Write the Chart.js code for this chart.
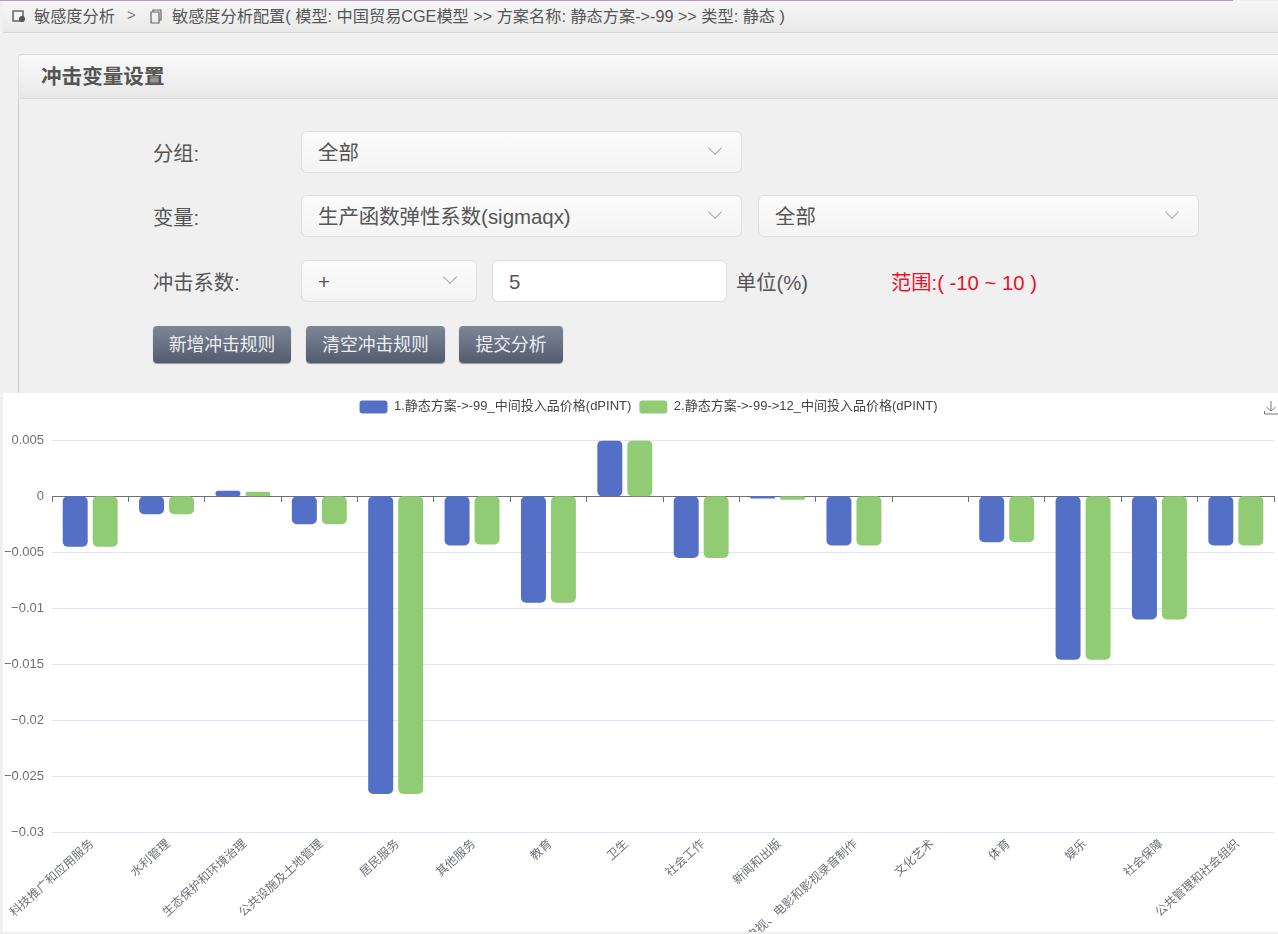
<!DOCTYPE html>
<html lang="zh">
<head>
<meta charset="utf-8">
<title>敏感度分析</title>
<script src="https://cdn.jsdelivr.net/npm/chart.js@4/dist/chart.umd.min.js"></script>
<style>
html,body{margin:0;padding:0;width:1278px;height:934px;overflow:hidden;background:#f0f0f0;font-family:"Liberation Sans","Noto Sans CJK SC",sans-serif;color:#555}
.a{position:absolute;white-space:nowrap}
.sel{position:absolute;box-sizing:border-box;background:linear-gradient(#fbfbfb,#f4f4f4);border:1px solid #dedede;border-radius:6px;font-size:20.4px;line-height:42px;padding-left:16px;color:#555}
.sel i{position:absolute;top:11px;right:21px;width:9px;height:9px;border-right:1.2px solid #aaa;border-bottom:1.2px solid #aaa;transform:rotate(45deg)}
.lab{position:absolute;font-size:20.3px;color:#555;white-space:nowrap}
.btn{position:absolute;top:326px;height:37px;box-sizing:border-box;border-radius:4px;background:linear-gradient(#7d8798,#525c6e);color:#eceef1;font-size:17.8px;line-height:38px;text-align:center;box-shadow:0 1px 1px #999}
#wrap{position:absolute;left:3px;top:393px;width:1275px;height:539px;background:#fff}
#dl{position:absolute;left:1264px;top:400px}
</style>
</head>
<body>
<div class="a" style="left:0;top:0;width:1233px;height:1px;background:#b497d6"></div>
<div class="a" style="left:3px;top:1px;width:1275px;height:31px;background:linear-gradient(#f6f6f6,#e9e9e9);border-bottom:1px solid #d4d4d4"></div>
<svg class="a" style="left:12px;top:10px" width="14" height="13"><rect x="1" y="1" width="10" height="10" fill="none" stroke="#666" stroke-width="1.5"/><circle cx="10" cy="9" r="3" fill="#555"/></svg>
<div class="a" style="left:34px;top:3px;font-size:16.2px;color:#555">敏感度分析</div>
<div class="a" style="left:127px;top:6px;font-size:15px;color:#777">&gt;</div>
<svg class="a" style="left:150px;top:9px" width="13" height="15"><path d="M3 3V1h8v10H9M1 3h8v11H1z" fill="none" stroke="#666" stroke-width="1.2"/></svg>
<div class="a" style="left:172px;top:3px;font-size:16.2px;color:#555">敏感度分析配置( 模型: 中国贸易CGE模型 &gt;&gt; 方案名称: 静态方案-&gt;-99 &gt;&gt; 类型: 静态 )</div>

<div class="a" style="left:18px;top:54px;width:1260px;height:45px;background:linear-gradient(#fafafa,#e8e8e8);border:1px solid #dcdcdc;border-right:0;border-radius:4px 0 0 0;box-sizing:border-box"></div>
<div class="a" style="left:18px;top:99px;width:1px;height:294px;background:#cfcfcf"></div>
<div class="a" style="left:41px;top:60px;font-size:20.6px;font-weight:bold;color:#555">冲击变量设置</div>

<div class="lab" style="left:153px;top:137px">分组:</div>
<div class="sel" style="left:301px;top:131px;width:441px;height:42px">全部<i></i></div>
<div class="lab" style="left:153px;top:201px">变量:</div>
<div class="sel" style="left:301px;top:195px;width:441px;height:42px">生产函数弹性系数(sigmaqx)<i></i></div>
<div class="sel" style="left:758px;top:195px;width:441px;height:42px">全部<i></i></div>
<div class="lab" style="left:153px;top:266px">冲击系数:</div>
<div class="sel" style="left:301px;top:260px;width:176px;height:42px">+<i></i></div>
<div class="sel" style="left:492px;top:260px;width:235px;height:42px;background:#fff">5</div>
<div class="lab" style="left:736px;top:266px">单位(%)</div>
<div class="lab" style="left:891px;top:266px;color:#e8132a">范围:( -10 ~ 10 )</div>
<div class="btn" style="left:153px;width:138px">新增冲击规则</div>
<div class="btn" style="left:306px;width:139px">清空冲击规则</div>
<div class="btn" style="left:459px;width:104px">提交分析</div>

<div id="wrap"><canvas id="c" width="1275" height="539"></canvas></div>
<svg id="dl" width="14" height="15"><path d="M7 1v10M2.5 7L7 11l4.500-4M.5 11v3h14" fill="none" stroke="#777" stroke-width="1"/></svg>

<script>
const categories = ["科技推广和应用服务","水利管理","生态保护和环境治理","公共设施及土地管理","居民服务","其他服务","教育","卫生","社会工作","新闻和出版","广播、电视、电影和影视录音制作","文化艺术","体育","娱乐","社会保障","公共管理和社会组织"];
const seriesNames = ["1.静态方案->-99_中间投入品价格(dPINT)","2.静态方案->-99->12_中间投入品价格(dPINT)"];
const seriesA = [-0.0045,-0.0016,0.0005,-0.0025,-0.0266,-0.0044,-0.0095,0.005,-0.0055,-0.0002,-0.0044,0,-0.0041,-0.0146,-0.011,-0.0044];
const seriesB = [-0.0045,-0.0016,0.0004,-0.0025,-0.0266,-0.0043,-0.0095,0.005,-0.0055,-0.0003,-0.0044,0,-0.0041,-0.0146,-0.011,-0.0044];
const yMin = -0.03, yMax = 0.005, yStep = 0.005;
const BLUE = "#5470c6", GREEN = "#91cc75", TXT = "#6e7079", GRID = "#e0e6f1";
const FONT = '"Liberation Sans","Noto Sans CJK SC",sans-serif';

const nudgeLegend = {
  id: "nudgeLegend",
  afterLayout(chart) {
    const l = chart.legend;
    l.left += 10; l.right += 10; l.top -= 17; l.bottom -= 17;
  }
};

new Chart(document.getElementById("c"), {
  type: "bar",
  plugins: [nudgeLegend],
  data: {
    labels: categories,
    datasets: [
      { label: seriesNames[0], data: seriesA, backgroundColor: BLUE, borderRadius: 5, borderSkipped: false, categoryPercentage: 0.785, barPercentage: 0.833 },
      { label: seriesNames[1], data: seriesB, backgroundColor: GREEN, borderRadius: 5, borderSkipped: false, categoryPercentage: 0.785, barPercentage: 0.833 }
    ]
  },
  options: {
    responsive: false,
    animation: false,
    layout: { autoPadding: false, padding: { top: 16.4, right: 4, left: 0, bottom: 0 } },
    plugins: {
      tooltip: { enabled: false },
      legend: {
        position: "top",
        labels: { boxWidth: 28, boxHeight: 13, padding: 8, useBorderRadius: true, borderRadius: 3, color: "#444", font: { size: 13, family: FONT } }
      }
    },
    scales: {
      x: {
        type: "category",
        position: "bottom",
        offset: true,
        grid: { display: false },
        border: { display: false },
        ticks: { autoSkip: false, minRotation: 42, maxRotation: 42, padding: -3, labelOffset: 2, color: TXT, font: { size: 12, family: FONT } },
        afterFit(s) { s.height = 100; s.paddingLeft = 0; s.paddingRight = 0; }
      },
      x2: {
        type: "category",
        labels: categories,
        position: { y: 0 },
        offset: true,
        grid: { offset: true, drawOnChartArea: false, drawTicks: true, tickLength: 5, tickColor: TXT, tickWidth: 1 },
        border: { display: true, color: TXT, width: 1 },
        ticks: { display: false, autoSkip: false, maxRotation: 0 }
      },
      y: {
        type: "linear",
        min: yMin,
        max: yMax,
        grid: { color: GRID, drawTicks: false, lineWidth: 1 },
        border: { display: false },
        ticks: {
          stepSize: yStep,
          padding: 8,
          color: TXT,
          font: { size: 13, family: FONT },
          callback: v => String(+v.toFixed(3)).replace("-", "\u2212")
        },
        afterFit(s) { s.width = 49; }
      }
    }
  }
});
</script>
</body>
</html>
